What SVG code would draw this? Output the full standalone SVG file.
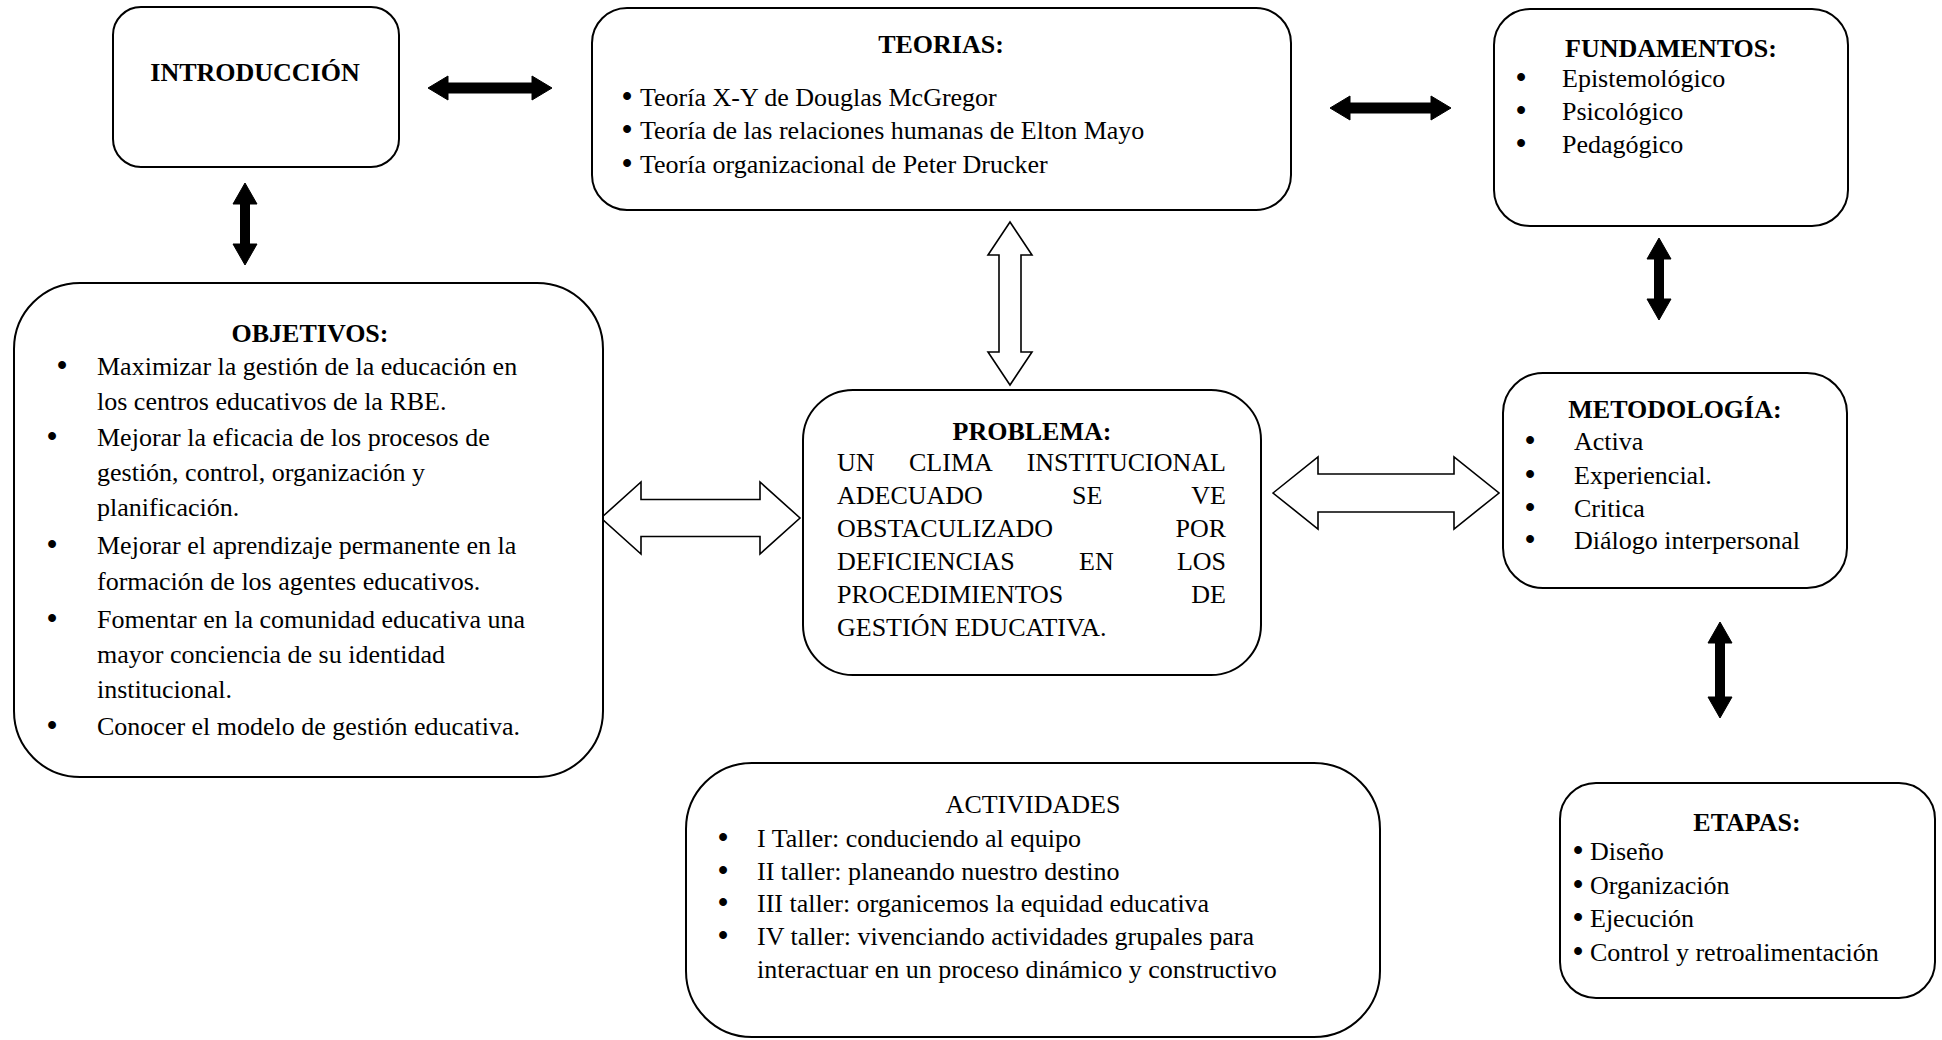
<svg xmlns="http://www.w3.org/2000/svg" width="1942" height="1040" viewBox="0 0 1942 1040">
<style>
  .box { fill: #ffffff; stroke: #000000; stroke-width: 2; }
  .t { font-family: "Liberation Serif", "Times New Roman", serif; font-size: 26px; fill: #000000; }
  .b { font-weight: bold; }
  .c { text-anchor: middle; }
  .e { text-anchor: end; }
  .bi { font-size: 29px; font-weight: bold; }
  .solid { fill: #000000; stroke: #000000; stroke-width: 1; }
  .open { fill: #ffffff; stroke: #000000; stroke-width: 1.6; stroke-linejoin: miter; }
</style>
<rect width="1942" height="1040" fill="#ffffff"/>

<g id="connectors">
  <path class="solid" d="M428,88 L448,76 L448,83 L532,83 L532,76 L552,88 L532,100 L532,93 L448,93 L448,100 Z"/>
  <path class="solid" d="M1330,108 L1350,96 L1350,103 L1431,103 L1431,96 L1451,108 L1431,120 L1431,113 L1350,113 L1350,120 Z"/>
  <path class="solid" d="M245,183 L257,204 L249.5,204 L249.5,244 L257,244 L245,265 L233,244 L240.5,244 L240.5,204 L233,204 Z"/>
  <path class="solid" d="M1659,238 L1671,259 L1663.5,259 L1663.5,299 L1671,299 L1659,320 L1647,299 L1654.5,299 L1654.5,259 L1647,259 Z"/>
  <path class="solid" d="M1720,622 L1732,643 L1724.5,643 L1724.5,697 L1732,697 L1720,718 L1708,697 L1715.5,697 L1715.5,643 L1708,643 Z"/>
  <path class="open" d="M1010,222 L1032,255 L1021,255 L1021,352 L1032,352 L1010,385 L988,352 L999,352 L999,255 L988,255 Z"/>
  <path class="open" d="M601,518 L641,482 L641,499.5 L760,499.5 L760,482 L800,518 L760,554 L760,536.5 L641,536.5 L641,554 Z"/>
  <path class="open" d="M1273,493 L1318,457 L1318,474 L1454,474 L1454,457 L1499,493 L1454,529 L1454,512 L1318,512 L1318,529 Z"/>
</g>

<g id="n-introduccion">
  <rect class="box" x="113" y="7" width="286" height="160" rx="28" ry="28"/>
  <text class="t b c" x="255" y="81">INTRODUCCIÓN</text>
</g>

<g id="n-teorias">
  <rect class="box" x="592" y="8" width="699" height="202" rx="35" ry="35"/>
  <text class="t b c" x="941" y="53">TEORIAS:</text>
  <text class="t" y="106"><tspan class="bi" x="622">•</tspan><tspan x="640">Teoría X-Y de Douglas McGregor</tspan></text>
  <text class="t" y="139"><tspan class="bi" x="622">•</tspan><tspan x="640">Teoría de las relaciones humanas de Elton Mayo</tspan></text>
  <text class="t" y="173"><tspan class="bi" x="622">•</tspan><tspan x="640">Teoría organizacional de Peter Drucker</tspan></text>
</g>

<g id="n-fundamentos">
  <rect class="box" x="1494" y="9" width="354" height="217" rx="36" ry="36"/>
  <text class="t b c" x="1671" y="57">FUNDAMENTOS:</text>
  <text class="t" y="87"><tspan class="bi" x="1516">•</tspan><tspan x="1562">Epistemológico</tspan></text>
  <text class="t" y="120"><tspan class="bi" x="1516">•</tspan><tspan x="1562">Psicológico</tspan></text>
  <text class="t" y="153"><tspan class="bi" x="1516">•</tspan><tspan x="1562">Pedagógico</tspan></text>
</g>

<g id="n-objetivos">
  <rect class="box" x="14" y="283" width="589" height="494" rx="66" ry="66"/>
  <text class="t b c" x="310" y="342">OBJETIVOS:</text>
  <text class="t" y="375"><tspan class="bi" x="57">•</tspan><tspan x="97">Maximizar la gestión de la educación en</tspan></text>
  <text class="t" x="97" y="410">los centros educativos de la RBE.</text>
  <text class="t" y="446"><tspan class="bi" x="47">•</tspan><tspan x="97">Mejorar la eficacia de los procesos de</tspan></text>
  <text class="t" x="97" y="481">gestión, control, organización y</text>
  <text class="t" x="97" y="516">planificación.</text>
  <text class="t" y="554"><tspan class="bi" x="47">•</tspan><tspan x="97">Mejorar el aprendizaje permanente en la</tspan></text>
  <text class="t" x="97" y="590">formación de los agentes educativos.</text>
  <text class="t" y="628"><tspan class="bi" x="47">•</tspan><tspan x="97">Fomentar en la comunidad educativa una</tspan></text>
  <text class="t" x="97" y="663">mayor conciencia de su identidad</text>
  <text class="t" x="97" y="698">institucional.</text>
  <text class="t" y="735"><tspan class="bi" x="47">•</tspan><tspan x="97">Conocer el modelo de gestión educativa.</tspan></text>
</g>

<g id="n-problema">
  <rect class="box" x="803" y="390" width="458" height="285" rx="50" ry="50"/>
  <text class="t b c" x="1032" y="440">PROBLEMA:</text>
  <text class="t" x="837" y="471">UN</text>
  <text class="t" x="909" y="471">CLIMA</text>
  <text class="t e" x="1226" y="471">INSTITUCIONAL</text>
  <text class="t" x="837" y="504">ADECUADO</text>
  <text class="t" x="1072" y="504">SE</text>
  <text class="t e" x="1226" y="504">VE</text>
  <text class="t" x="837" y="537">OBSTACULIZADO</text>
  <text class="t e" x="1226" y="537">POR</text>
  <text class="t" x="837" y="570">DEFICIENCIAS</text>
  <text class="t" x="1079" y="570">EN</text>
  <text class="t e" x="1226" y="570">LOS</text>
  <text class="t" x="837" y="603">PROCEDIMIENTOS</text>
  <text class="t e" x="1226" y="603">DE</text>
  <text class="t" x="837" y="636">GESTIÓN EDUCATIVA.</text>
</g>

<g id="n-metodologia">
  <rect class="box" x="1503" y="373" width="344" height="215" rx="40" ry="40"/>
  <text class="t b c" x="1675" y="418">METODOLOGÍA:</text>
  <text class="t" y="450"><tspan class="bi" x="1525">•</tspan><tspan x="1574">Activa</tspan></text>
  <text class="t" y="484"><tspan class="bi" x="1525">•</tspan><tspan x="1574">Experiencial.</tspan></text>
  <text class="t" y="517"><tspan class="bi" x="1525">•</tspan><tspan x="1574">Critica</tspan></text>
  <text class="t" y="549"><tspan class="bi" x="1525">•</tspan><tspan x="1574">Diálogo interpersonal</tspan></text>
</g>

<g id="n-actividades">
  <rect class="box" x="686" y="763" width="694" height="274" rx="66" ry="66"/>
  <text class="t c" x="1033" y="813">ACTIVIDADES</text>
  <text class="t" y="847"><tspan class="bi" x="718">•</tspan><tspan x="757">I Taller: conduciendo al equipo</tspan></text>
  <text class="t" y="880"><tspan class="bi" x="718">•</tspan><tspan x="757">II taller: planeando nuestro destino</tspan></text>
  <text class="t" y="912"><tspan class="bi" x="718">•</tspan><tspan x="757">III taller: organicemos la equidad educativa</tspan></text>
  <text class="t" y="945"><tspan class="bi" x="718">•</tspan><tspan x="757">IV taller: vivenciando actividades grupales para</tspan></text>
  <text class="t" x="757" y="978">interactuar en un proceso dinámico y constructivo</text>
</g>

<g id="n-etapas">
  <rect class="box" x="1560" y="783" width="375" height="215" rx="36" ry="36"/>
  <text class="t b c" x="1747" y="831">ETAPAS:</text>
  <text class="t" y="860"><tspan class="bi" x="1573">•</tspan><tspan x="1590">Diseño</tspan></text>
  <text class="t" y="894"><tspan class="bi" x="1573">•</tspan><tspan x="1590">Organización</tspan></text>
  <text class="t" y="927"><tspan class="bi" x="1573">•</tspan><tspan x="1590">Ejecución</tspan></text>
  <text class="t" y="961"><tspan class="bi" x="1573">•</tspan><tspan x="1590">Control y retroalimentación</tspan></text>
</g>
</svg>
